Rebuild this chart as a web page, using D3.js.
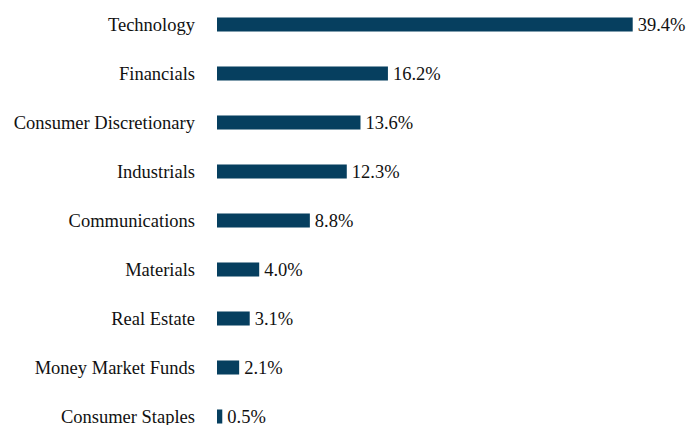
<!DOCTYPE html>
<html><head><meta charset="utf-8">
<script src="https://cdn.jsdelivr.net/npm/d3@7"></script>
<style>html,body{margin:0;padding:0;background:#fff;}</style>
</head><body>
<svg id="c" width="687" height="425"></svg>
<script>
const categories = ["Technology","Financials","Consumer Discretionary","Industrials","Communications","Materials","Real Estate","Money Market Funds","Consumer Staples"];
const values = [39.4,16.2,13.6,12.3,8.8,4.0,3.1,2.1,0.5];

const svg = d3.select("#c");
const x0 = 217;
const x = d3.scaleLinear().domain([0, 39.4]).range([x0, 632.7]);
const y = d3.scaleBand().domain(categories).range([0, 441]).paddingInner(0.714).paddingOuter(0.357);
const fs = 18.5;
const ff = '"Liberation Serif", "Times New Roman", serif';

svg.selectAll("rect.bar").data(values).join("rect")
  .attr("class","bar")
  .attr("x", x0)
  .attr("y", (d,i)=>y(categories[i]))
  .attr("width", d=>x(d)-x0)
  .attr("height", y.bandwidth())
  .attr("fill", "#063f5f");

svg.selectAll("text.cat").data(categories).join("text")
  .attr("class","cat")
  .attr("x", 195)
  .attr("y", d=>y(d)+y.bandwidth()/2)
  .attr("dy","0.35em")
  .attr("text-anchor","end")
  .style("font-family", ff)
  .style("font-size", fs+"px")
  .attr("fill","#111")
  .text(d=>d);

svg.selectAll("text.val").data(values).join("text")
  .attr("class","val")
  .attr("x", d=>x(d)+5)
  .attr("y", (d,i)=>y(categories[i])+y.bandwidth()/2)
  .attr("dy","0.35em")
  .style("font-family", ff)
  .style("font-size", fs+"px")
  .attr("fill","#111")
  .text(d=>d.toFixed(1)+"%");
</script>
</body></html>
